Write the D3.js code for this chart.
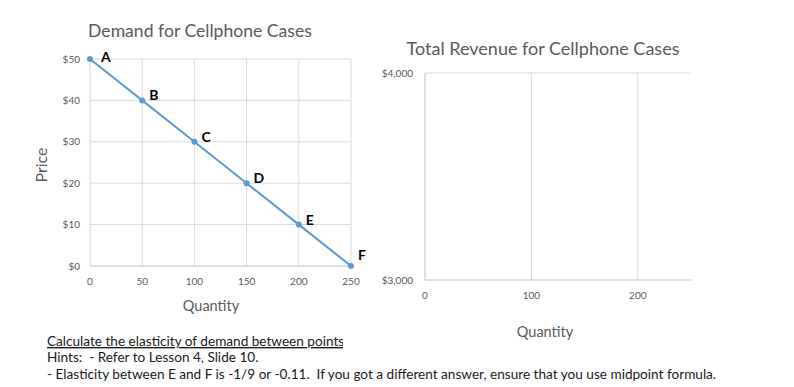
<!DOCTYPE html>
<html>
<head>
<meta charset="utf-8">
<script src="https://cdn.jsdelivr.net/npm/d3@7"></script>
<style>
  body { margin: 0; background: #fff; }
  svg { font-family: Lato, "Open Sans", sans-serif; }
  text { white-space: pre; }
</style>
</head>
<body>
<div id="chart"></div>
<script>
// demand schedule
const points = ["A", "B", "C", "D", "E", "F"]
const quantity = [0, 50, 100, 150, 200, 250]
const price = [50, 40, 30, 20, 10, 0]
const demandXTicks = [0, 50, 100, 150, 200, 250]
const demandYTicks = [0, 10, 20, 30, 40, 50]
// revenue chart is empty, only axes
const revXTicks = [0, 100, 200]
const revYTicks = [3000, 4000]
const hints = [
  "Hints:  - Refer to Lesson 4, Slide 10.",
  "- Elasticity between E and F is -1/9 or -0.11.  If you got a different answer, ensure that you use midpoint formula."
]

const GRID = "#d9d9d9"
const AXIS = "#bfbfbf"
const TXT = "#595959"
const BLUE = "#5b9bd5"

let width = 794, height = 387;
let svg = d3.select("#chart").append("svg").attr("width", width).attr("height", height);

// ---- demand chart ----
let x = d3.scaleLinear().domain([0, 250]).range([90, 351]);
let y = d3.scaleLinear().domain([0, 50]).range([266, 59]);

let g1 = svg.append("g");
g1.selectAll(".vg").data(demandXTicks.slice(1)).join("line")
  .attr("x1", d => x(d)).attr("x2", d => x(d)).attr("y1", y(50)).attr("y2", y(0))
  .attr("stroke", GRID);
g1.selectAll(".hg").data(demandYTicks.slice(1)).join("line")
  .attr("x1", x(0)).attr("x2", x(250)).attr("y1", d => y(d)).attr("y2", d => y(d))
  .attr("stroke", GRID);
g1.append("line").attr("x1", x(0)).attr("x2", x(0)).attr("y1", y(50)).attr("y2", y(0)).attr("stroke", GRID);
g1.append("line").attr("x1", x(0)).attr("x2", x(250)).attr("y1", y(0)).attr("y2", y(0)).attr("stroke", AXIS);

g1.selectAll(".yt").data(demandYTicks).join("text")
  .attr("x", 80).attr("y", d => y(d) + 3.5).attr("text-anchor", "end")
  .attr("font-size", 10).attr("fill", TXT).text(d => "$" + d);
g1.selectAll(".xt").data(demandXTicks).join("text")
  .attr("x", d => x(d)).attr("y", 285).attr("text-anchor", "middle")
  .attr("font-size", 10).attr("fill", TXT).text(d => d);

g1.append("text").attr("x", 200).attr("y", 37).attr("text-anchor", "middle")
  .attr("font-size", 17.6).attr("fill", TXT).text("Demand for Cellphone Cases");
g1.append("text").attr("x", 211).attr("y", 311).attr("text-anchor", "middle")
  .attr("font-size", 14.5).attr("fill", TXT).text("Quantity");
g1.append("text").attr("transform", "translate(47,165) rotate(-90)").attr("text-anchor", "middle")
  .attr("font-size", 16).attr("fill", TXT).text("Price");

let line = d3.line().x((d, i) => x(quantity[i])).y((d, i) => y(price[i]));
g1.append("path").datum(points).attr("d", line).attr("fill", "none")
  .attr("stroke", BLUE).attr("stroke-width", 2);
g1.selectAll("circle").data(points).join("circle")
  .attr("cx", (d, i) => x(quantity[i])).attr("cy", (d, i) => y(price[i]))
  .attr("r", 3).attr("fill", BLUE);
g1.selectAll(".lbl").data(points).join("text")
  .attr("x", (d, i) => x(quantity[i]) + (i == 0 ? 11 : 7))
  .attr("y", (d, i) => y(price[i]) + (i == 0 ? 3 : (i == 5 ? -6 : 0)))
  .attr("font-size", 14).attr("font-weight", "bold").attr("fill", "#000").text(d => d);

// ---- revenue chart ----
let x2 = d3.scaleLinear().domain([0, 250]).range([425, 691]);
let y2 = d3.scaleLinear().domain([3000, 4000]).range([280, 73]);
let g2 = svg.append("g");
g2.selectAll(".vg").data(revXTicks.slice(1)).join("line")
  .attr("x1", d => x2(d)).attr("x2", d => x2(d)).attr("y1", y2(4000)).attr("y2", y2(3000))
  .attr("stroke", GRID);
g2.append("line").attr("x1", x2(0)).attr("x2", x2(250)).attr("y1", y2(4000)).attr("y2", y2(4000)).attr("stroke", GRID);
g2.append("line").attr("x1", x2(0)).attr("x2", x2(0)).attr("y1", y2(4000)).attr("y2", y2(3000)).attr("stroke", AXIS);
g2.append("line").attr("x1", x2(0)).attr("x2", x2(250)).attr("y1", y2(3000)).attr("y2", y2(3000)).attr("stroke", AXIS);

g2.selectAll(".yt").data(revYTicks).join("text")
  .attr("x", 413).attr("y", d => y2(d) + 3.5).attr("text-anchor", "end")
  .attr("font-size", 10).attr("fill", TXT).text(d => "$" + d3.format(",")(d));
g2.selectAll(".xt").data(revXTicks).join("text")
  .attr("x", d => x2(d)).attr("y", 299).attr("text-anchor", "middle")
  .attr("font-size", 10).attr("fill", TXT).text(d => d);
g2.append("text").attr("x", 543).attr("y", 55).attr("text-anchor", "middle")
  .attr("font-size", 18).attr("fill", TXT).text("Total Revenue for Cellphone Cases");
g2.append("text").attr("x", 545).attr("y", 337).attr("text-anchor", "middle")
  .attr("font-size", 14.5).attr("fill", TXT).text("Quantity");

// ---- notes below ----
svg.append("clipPath").attr("id", "cut").append("rect")
  .attr("x", 0).attr("y", 330).attr("width", 343).attr("height", 20);
svg.append("text").attr("x", 47).attr("y", 346).attr("clip-path", "url(#cut)")
  .attr("font-size", 13.6).attr("fill", "#1a1a1a").attr("text-decoration", "underline")
  .text("Calculate the elasticity of demand between points");
svg.selectAll(".hint").data(hints).join("text")
  .attr("x", 47).attr("y", (d, i) => 362 + i * 17)
  .attr("font-size", 13.6).attr("fill", "#1a1a1a").text(d => d);
</script>
</body>
</html>
